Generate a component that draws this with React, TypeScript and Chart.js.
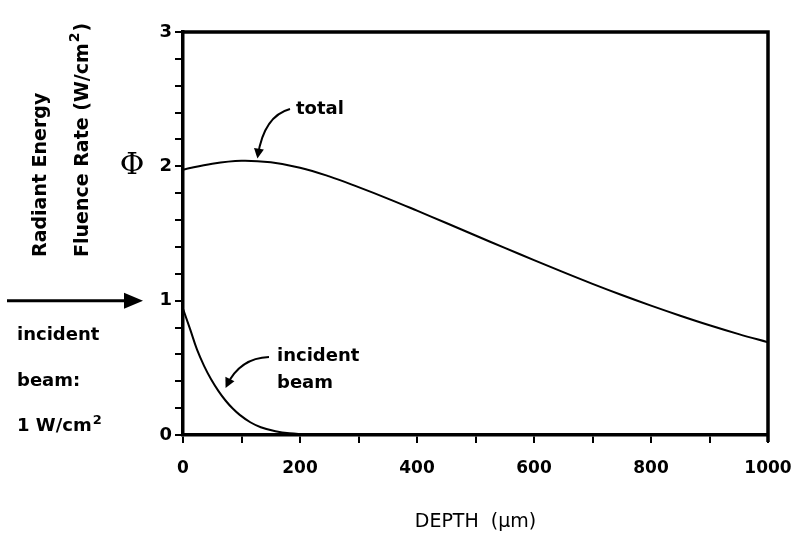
import { useEffect, useRef } from "react";
import { Chart, registerables } from "chart.js";
Chart.register(...registerables);

const depthTotal = [0, 50, 100, 150, 200, 250, 300, 350, 400, 450, 500, 550, 600, 650, 700, 750, 800, 850, 900, 950, 1000];
const fluenceTotal = [1.975, 2.02, 2.042, 2.03, 1.99, 1.925, 1.845, 1.76, 1.67, 1.578, 1.485, 1.393, 1.302, 1.212, 1.125, 1.042, 0.963, 0.888, 0.817, 0.751, 0.69];
const depthIncident = [0, 12, 24, 36, 48, 61, 73, 85, 97, 115, 133, 158, 182, 220, 260, 300];
const fluenceIncident = [0.94, 0.79, 0.635, 0.515, 0.415, 0.325, 0.255, 0.197, 0.15, 0.095, 0.058, 0.028, 0.013, 0.004, 0.001, 0];
const xTickLabels = [0, 200, 400, 600, 800, 1000];
const yTickLabels = [0, 1, 2, 3];

const SANS = "'DejaVu Sans', sans-serif";

function textWithSup(ctx: CanvasRenderingContext2D, base: string, sup: string, tail: string, x: number, y: number, size: number, weight: string) {
  ctx.font = `${weight} ${size}px ${SANS}`;
  ctx.fillText(base, x, y);
  const w = ctx.measureText(base).width;
  ctx.font = `${weight} ${Math.round(size * 0.72)}px ${SANS}`;
  ctx.fillText(sup, x + w + 1, y - size * 0.4);
  const w2 = ctx.measureText(sup).width;
  ctx.font = `${weight} ${size}px ${SANS}`;
  if (tail) ctx.fillText(tail, x + w + 1 + w2 + 1, y);
}

function curvedArrow(ctx: CanvasRenderingContext2D, x0: number, y0: number, cx: number, cy: number, x1: number, y1: number) {
  ctx.beginPath();
  ctx.moveTo(x0, y0);
  ctx.quadraticCurveTo(cx, cy, x1, y1);
  ctx.lineWidth = 2;
  ctx.stroke();
  const ang = Math.atan2(y1 - cy, x1 - cx);
  const L = 10, W = 5;
  const tx = x1 + Math.cos(ang) * 3, ty = y1 + Math.sin(ang) * 3;
  ctx.beginPath();
  ctx.moveTo(tx, ty);
  ctx.lineTo(tx - L * Math.cos(ang) + W * Math.sin(ang), ty - L * Math.sin(ang) - W * Math.cos(ang));
  ctx.lineTo(tx - L * Math.cos(ang) - W * Math.sin(ang), ty - L * Math.sin(ang) + W * Math.cos(ang));
  ctx.closePath();
  ctx.fill();
}

const decorPlugin = {
  id: "decor",
  afterDraw(chart: any) {
    const ctx = chart.ctx as CanvasRenderingContext2D;
    const { left, right, top, bottom } = chart.chartArea;
    const xs = chart.scales.x, ys = chart.scales.y;
    ctx.save();
    ctx.strokeStyle = "#000";
    ctx.fillStyle = "#000";
    // frame top & right
    ctx.lineWidth = 3.5;
    ctx.beginPath();
    ctx.moveTo(left, top);
    ctx.lineTo(right, top);
    ctx.lineTo(right, bottom + 7);
    ctx.stroke();

    // y-axis title (rotated, two lines)
    ctx.save();
    ctx.translate(41, 257);
    ctx.rotate(-Math.PI / 2);
    ctx.textAlign = "left";
    ctx.textBaseline = "middle";
    ctx.font = `bold 19px ${SANS}`;
    ctx.fillText("Radiant Energy", 0, 0);
    ctx.restore();
    ctx.save();
    ctx.translate(83, 257);
    ctx.rotate(-Math.PI / 2);
    ctx.textAlign = "left";
    ctx.textBaseline = "middle";
    textWithSup(ctx, "Fluence Rate (W/cm", "2", ")", 0, 0, 19, "bold");
    ctx.restore();

    // Phi
    ctx.font = `30px 'DejaVu Serif', serif`;
    ctx.textAlign = "center";
    ctx.textBaseline = "middle";
    ctx.fillText("Φ", 132, 166);

    // incident arrow
    const ay = ys.getPixelForValue(1);
    ctx.lineWidth = 3;
    ctx.beginPath();
    ctx.moveTo(7, ay);
    ctx.lineTo(128, ay);
    ctx.stroke();
    ctx.beginPath();
    ctx.moveTo(143, ay);
    ctx.lineTo(124, ay - 8);
    ctx.lineTo(124, ay + 8);
    ctx.closePath();
    ctx.fill();

    // left labels
    ctx.textAlign = "left";
    ctx.textBaseline = "alphabetic";
    ctx.font = `bold 18px ${SANS}`;
    ctx.fillText("incident", 17, 340);
    ctx.fillText("beam:", 17, 386);
    textWithSup(ctx, "1 W/cm", "2", "", 17, 431, 18, "bold");

    // annotations
    ctx.font = `bold 18px ${SANS}`;
    ctx.fillText("total", 296, 114);
    ctx.fillText("incident", 277, 361);
    ctx.fillText("beam", 277, 388);
    const tX = xs.getPixelForValue(128), tY = ys.getPixelForValue(2.08);
    curvedArrow(ctx, 290, 109, 264, 116, tX, tY);
    const iX = xs.getPixelForValue(75), iY = ys.getPixelForValue(0.37);
    curvedArrow(ctx, 269, 357, 240, 358, iX, iY);

    // x title
    ctx.textAlign = "center";
    ctx.font = `19px ${SANS}`;
    ctx.fillText("DEPTH  (μm)", (left + right) / 2, 527);
    ctx.restore();
  },
};

export default function App() {
  const ref = useRef<HTMLCanvasElement>(null);
  useEffect(() => {
    if (!ref.current) return;
    const chart = new Chart(ref.current, {
      type: "line",
      data: {
        datasets: [
          {
            label: "total",
            data: depthTotal.map((d, i) => ({ x: d, y: fluenceTotal[i] })),
            borderColor: "#000",
            borderWidth: 2,
            pointRadius: 0,
            tension: 0.4,
            fill: false,
          },
          {
            label: "incident beam",
            data: depthIncident.map((d, i) => ({ x: d, y: fluenceIncident[i] })),
            borderColor: "#000",
            borderWidth: 2,
            pointRadius: 0,
            tension: 0.4,
            fill: false,
          },
        ],
      },
      options: {
        animation: false,
        responsive: false,
        layout: { padding: { left: 0, top: 32, right: 25, bottom: 0 } },
        plugins: { legend: { display: false }, tooltip: { enabled: false } },
        scales: {
          x: {
            type: "linear",
            min: 0,
            max: 1000,
            afterFit: (s: any) => { s.height = 103; s.paddingLeft = 0; s.paddingRight = 0; },
            ticks: {
              stepSize: 100,
              autoSkip: false,
              maxRotation: 0,
              padding: 15,
              color: "#000",
              font: { family: SANS, size: 17, weight: "bold" },
              callback: (v: any) => {
                const n = Math.round(Number(v));
                return xTickLabels.includes(n) ? String(n) : "";
              },
            },
            grid: { drawOnChartArea: false, drawTicks: true, tickLength: 8, color: "#000", lineWidth: 2 },
            border: { display: true, color: "#000", width: 3.5 },
          },
          y: {
            type: "linear",
            min: 0,
            max: 3,
            afterFit: (s: any) => { s.width = 183; s.paddingTop = 0; s.paddingBottom = 0; },
            ticks: {
              stepSize: 0.2,
              autoSkip: false,
              padding: 3,
              color: "#000",
              font: { family: SANS, size: 18, weight: "bold" },
              callback: (v: any) => {
                const n = Number(v);
                const r = Math.round(n);
                return Math.abs(n - r) < 1e-6 && yTickLabels.includes(r) ? String(r) : "";
              },
            },
            grid: { drawOnChartArea: false, drawTicks: true, tickLength: 8, color: "#000", lineWidth: 2 },
            border: { display: true, color: "#000", width: 3.5 },
          },
        },
      },
      plugins: [decorPlugin],
    } as any);
    return () => chart.destroy();
  }, []);
  return (
    <div style={{ position: "absolute", left: 0, top: 0, width: 793, height: 538, background: "#fff" }}>
      <canvas ref={ref} width={793} height={538} style={{ display: "block" }} />
    </div>
  );
}
